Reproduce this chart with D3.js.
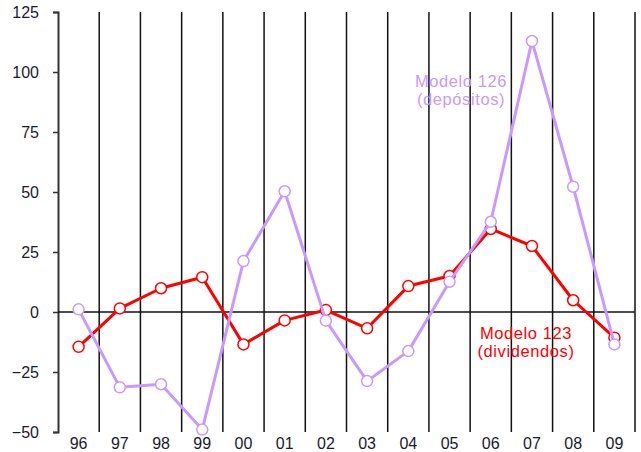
<!DOCTYPE html>
<html lang="es">
<head>
  <meta charset="UTF-8">
  <title>Modelo 123 / Modelo 126</title>
  <script src="https://d3js.org/d3.v7.min.js"></script>
  <style>
    body { margin: 0; background: #fff; font-family: "Liberation Sans", Arial, sans-serif; }
    svg { display: block; }
  </style>
</head>
<body>
<div id="chart"></div>
<script>
  // years (x categories) and y ticks
  const years = ["96", "97", "98", "99", "00", "01", "02", "03", "04", "05", "06", "07", "08", "09"];
  const yTicks = [-50, -25, 0, 25, 50, 75, 100, 125];

  // Modelo 123 (dividendos)
  const modelo123 = [-14.5, 1.5, 9.9, 14.5, -13.5, -3.5, 0.8, -6.8, 10.8, 15, 34.6, 27.5, 4.9, -10.7];
  // Modelo 126 (depósitos)
  const modelo126 = [1.1, -31.4, -30.1, -49, 21.2, 50.3, -3.6, -28.8, -16.3, 12.6, 37.6, 112.9, 52.2, -13.5];

  const width = 641, height = 452;
  const plotLeft = 58, plotRight = 635, plotTop = 12, plotBottom = 432;
  const font = "'Liberation Sans', Arial, sans-serif";

  const svg = d3.select("#chart").append("svg")
    .attr("width", width)
    .attr("height", height);

  const x = d3.scaleBand().domain(years).range([plotLeft, plotRight]);
  const y = d3.scaleLinear().domain([-50, 125]).range([plotBottom, plotTop]);

  // vertical separators between years
  const bounds = years.map(d => x(d)).concat([plotRight]);
  svg.append("g").selectAll("line")
    .data(bounds.slice(1))
    .join("line")
    .attr("x1", d => d).attr("x2", d => d)
    .attr("y1", plotTop).attr("y2", plotBottom)
    .attr("stroke", "#111")
    .attr("stroke-width", 1.5);

  // y axis
  const yAxis = svg.append("g")
    .attr("transform", `translate(${plotLeft},0)`)
    .call(d3.axisLeft(y).tickValues(yTicks).tickSize(5).tickPadding(14));
  yAxis.select(".domain").attr("stroke", "#333").attr("stroke-width", 2);
  yAxis.selectAll(".tick line").attr("stroke", "#333").attr("stroke-width", 1.5);
  yAxis.selectAll("text")
    .attr("font-size", 16)
    .attr("font-family", font)
    .attr("fill", "#1a1a2e");

  // zero line
  svg.append("line")
    .attr("x1", plotLeft).attr("x2", plotRight)
    .attr("y1", y(0)).attr("y2", y(0))
    .attr("stroke", "#111")
    .attr("stroke-width", 1.5);

  // x labels
  svg.append("g").selectAll("text")
    .data(years)
    .join("text")
    .attr("x", d => x(d) + x.bandwidth() / 2)
    .attr("y", 449)
    .attr("text-anchor", "middle")
    .attr("font-size", 16)
    .attr("font-family", font)
    .attr("fill", "#1a1a2e")
    .text(d => d);

  function drawSeries(values, color) {
    const line = d3.line()
      .x((d, i) => x(years[i]) + x.bandwidth() / 2)
      .y(d => y(d));
    svg.append("path")
      .datum(values)
      .attr("d", line)
      .attr("fill", "none")
      .attr("stroke", color)
      .attr("stroke-width", 3)
      .attr("stroke-linejoin", "round");
    svg.append("g").selectAll("circle")
      .data(values)
      .join("circle")
      .attr("cx", (d, i) => x(years[i]) + x.bandwidth() / 2)
      .attr("cy", d => y(d))
      .attr("r", 5.5)
      .attr("fill", "#fff")
      .attr("stroke", color)
      .attr("stroke-width", 1.5);
  }

  drawSeries(modelo123, "#ff0000");
  drawSeries(modelo126, "#c899ff");

  // series labels
  function label(lines, cx, y0, color) {
    const t = svg.append("text")
      .attr("text-anchor", "middle")
      .attr("font-size", 16.5)
      .attr("font-family", font)
      .attr("letter-spacing", 0.6)
      .attr("fill", color);
    lines.forEach((s, i) => {
      t.append("tspan").attr("x", cx).attr("y", y0 + i * 18).text(s);
    });
  }
  label(["Modelo 126", "(depósitos)"], 461, 87, "#c899ff");
  label(["Modelo 123", "(dividendos)"], 526, 339, "#ff0000");
</script>
</body>
</html>
